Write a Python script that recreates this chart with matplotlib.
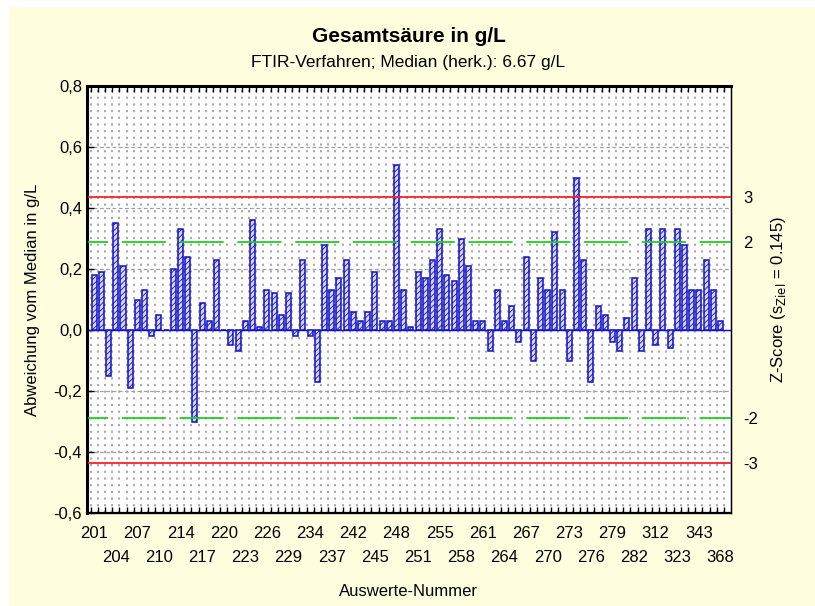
import numpy as np
import matplotlib
matplotlib.use("Agg")
import matplotlib.pyplot as plt
from matplotlib.patches import Rectangle
from matplotlib.ticker import FixedLocator, FuncFormatter, NullLocator

plt.rcParams['font.family'] = ['Liberation Sans', 'DejaVu Sans']
plt.rcParams['hatch.color'] = '#2020d0'
plt.rcParams['hatch.linewidth'] = 0.6

# Abweichung vom Median (g/L) je Teilnehmer, in Reihenfolge der Auswerte-Nummern
werte = [0.18, 0.19, -0.15, 0.35, 0.21, -0.19, 0.10, 0.13, -0.02, 0.05, 0.00,
         0.20, 0.33, 0.24, -0.30, 0.09, 0.03, 0.23, 0.00, -0.05, -0.07, 0.03,
         0.36, 0.01, 0.13, 0.12, 0.05, 0.12, -0.02, 0.23, -0.02, -0.17, 0.28,
         0.13, 0.17, 0.23, 0.06, 0.03, 0.06, 0.19, 0.03, 0.03, 0.54, 0.13,
         0.01, 0.19, 0.17, 0.23, 0.33, 0.18, 0.16, 0.30, 0.21, 0.03, 0.03,
         -0.07, 0.13, 0.03, 0.08, -0.04, 0.24, -0.10, 0.17, 0.13, 0.32, 0.13,
         -0.10, 0.50, 0.23, -0.17, 0.08, 0.05, -0.04, -0.07, 0.04, 0.17,
         -0.07, 0.33, -0.05, 0.33, -0.06, 0.33, 0.28, 0.13, 0.13, 0.23, 0.13, 0.03]

# nur jede dritte Auswerte-Nummer ist beschriftet
beschriftung = ['201', '204', '207', '210', '214', '217', '220', '223', '226', '229',
                '234', '237', '242', '245', '248', '251', '255', '258', '261', '264',
                '267', '270', '273', '276', '279', '282', '312', '323', '343', '368']

s_ziel = 0.145
z_grenzen = [3, 2, -2, -3]

n = len(werte)
x = np.arange(n)

fig = plt.figure(figsize=(8.15, 6.06), dpi=100)
fig.patches.append(Rectangle((9/815, 0), 1, 1 - 7/606, transform=fig.transFigure,
                             facecolor='#ffffe0', edgecolor='none', zorder=-10))

ax = fig.add_axes([87/815, 1 - 513/606, (730.5-87)/815, (513-86)/606])
ax.set_facecolor('white')

ax.bar(x, werte, width=0.7, facecolor='#d8d8ff', edgecolor='#1010c8',
       linewidth=1.1, hatch='//////', zorder=3)
ax.axhline(0, color='#1010c8', lw=1.0, zorder=2)

for z in z_grenzen:
    y = z * s_ziel
    if abs(z) == 3:
        ax.axhline(y, color='#ff2020', lw=1.3, zorder=4)
    else:
        ax.axhline(y, color='#20d020', lw=1.3, zorder=4,
                   linestyle=(12.7, (24.4, 7.6)))

ax.set_xlim(-1, 88.4)
ax.set_ylim(-0.6, 0.8)

ax.set_yticks(np.arange(-0.6, 0.81, 0.2))
ax.yaxis.set_major_formatter(FuncFormatter(lambda v, p: f"{v:.1f}".replace('.', ',').replace('-0,0', '0,0')))

pos = x[::3]
# obere Reihe
ax.set_xticks(pos[::2])
ax.set_xticklabels(beschriftung[::2])
ax.xaxis.set_minor_locator(FixedLocator(np.arange(-0.5, n + 0.5, 1)))
ax.tick_params(axis='x', which='major', length=0, labelsize=12, pad=9.6)
ax.tick_params(axis='x', which='minor', direction='in', length=4, top=True, bottom=True, width=1)
ax.tick_params(axis='y', which='major', direction='in', length=5, right=True, labelsize=12, width=1)

# untere Reihe
sec = ax.secondary_xaxis('bottom')
sec.set_xticks(pos[1::2])
sec.set_xticklabels(beschriftung[1::2])
sec.xaxis.set_minor_locator(NullLocator())
sec.tick_params(axis='x', length=0, labelsize=12, pad=26.9)
sec.spines['bottom'].set_visible(False)

ax.grid(axis='x', which='minor', color='#a0a0a0', linestyle=(0, (1.2, 2.5)), lw=1.3, zorder=1)
ax.grid(axis='y', which='major', color='#a0a0a0', linestyle=(0, (3, 2)), lw=0.9, zorder=1)
for s in ax.spines.values():
    s.set_linewidth(1.0)
ax.spines['left'].set_linewidth(2.2)
ax.spines['top'].set_linewidth(2.2)
ax.spines['bottom'].set_linewidth(1.6)

ax2 = ax.twinx()
ax2.set_ylim(ax.get_ylim())
ax2.set_yticks([z * s_ziel for z in z_grenzen])
ax2.set_yticklabels([str(z) for z in z_grenzen])
ax2.tick_params(axis='y', length=0, pad=9, labelsize=12)
ax2.set_ylabel('Z-Score (s$_{\\mathrm{Ziel}}$ = 0.145)', fontsize=12, labelpad=8)

ax.set_ylabel('Abweichung vom Median in g/L', fontsize=12, labelpad=10)
fig.text(408.5/815, 1 - 592/606, 'Auswerte-Nummer', ha='center', va='center', fontsize=12)

fig.text(408.5/815, 1 - 36/606, 'Gesamtsäure in g/L', ha='center', va='center',
         fontsize=15, fontweight='bold')
fig.text(408.5/815, 1 - 63/606, 'FTIR-Verfahren; Median (herk.): 6.67 g/L', ha='center',
         va='center', fontsize=12.5)

fig.savefig('out.png', dpi=100)
